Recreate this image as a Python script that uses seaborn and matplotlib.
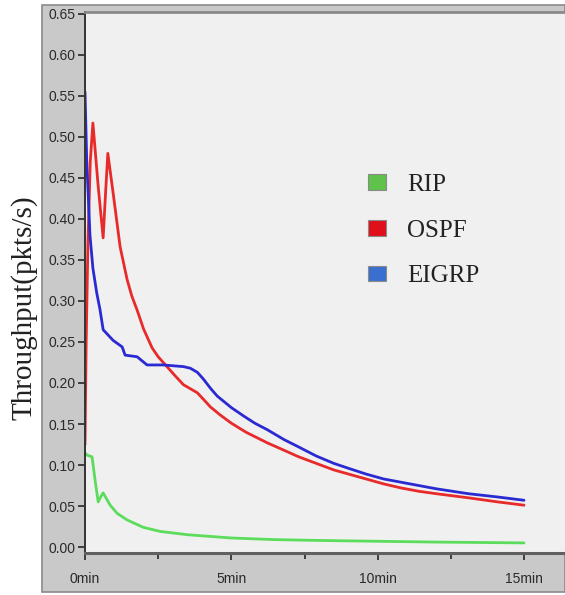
import numpy as np
import pandas as pd
import matplotlib
matplotlib.use("Agg")
import matplotlib.pyplot as plt
from matplotlib.patches import Patch, Rectangle
from matplotlib.ticker import FixedLocator
from matplotlib import font_manager
import seaborn as sns

# throughput traces (time in minutes)
rip_t = [0, 0.07, 0.24, 0.35, 0.45, 0.55, 0.62, 0.86, 1.1, 1.44, 1.99, 2.57,
         3.5, 5.0, 6.5, 8.0, 10.0, 12.0, 15.0]
rip_v = [0.115, 0.112, 0.110, 0.080, 0.055, 0.062, 0.066, 0.051, 0.041, 0.033,
         0.024, 0.019, 0.015, 0.011, 0.009, 0.008, 0.007, 0.006, 0.005]

ospf_t = [0, 0.04, 0.1, 0.18, 0.27, 0.45, 0.62, 0.7, 0.78, 0.96, 1.2, 1.44,
          1.6, 1.78, 2.0, 2.29, 2.5, 2.8, 3.1, 3.36, 3.6, 3.84, 4.05, 4.28,
          4.62, 5.0, 5.5, 6.23, 6.8, 7.3, 7.9, 8.5, 9.0, 9.6, 10.2, 10.8,
          11.4, 12.0, 13.1, 14.1, 15.0]
ospf_v = [0.125, 0.25, 0.37, 0.47, 0.517, 0.44, 0.377, 0.43, 0.48, 0.432,
          0.366, 0.326, 0.306, 0.289, 0.266, 0.243, 0.232, 0.220, 0.208, 0.198,
          0.193, 0.188, 0.180, 0.171, 0.161, 0.151, 0.140, 0.127, 0.118, 0.110,
          0.102, 0.094, 0.089, 0.083, 0.077, 0.072, 0.068, 0.065, 0.060,
          0.055, 0.051]

eigrp_t = [0, 0.06, 0.17, 0.27, 0.4, 0.51, 0.62, 0.96, 1.27, 1.37, 1.78, 2.12,
           2.67, 3.36, 3.6, 3.84, 4.04, 4.3, 4.52, 5.0, 5.41, 5.8, 6.23, 6.8,
           7.3, 7.9, 8.5, 9.0, 9.6, 10.2, 10.8, 11.4, 12.0, 13.1, 14.1, 15.0]
eigrp_v = [0.555, 0.47, 0.38, 0.34, 0.31, 0.29, 0.265, 0.252, 0.244, 0.234,
           0.232, 0.222, 0.222, 0.220, 0.218, 0.213, 0.205, 0.193, 0.184,
           0.170, 0.160, 0.151, 0.143, 0.131, 0.122, 0.111, 0.102, 0.096,
           0.089, 0.083, 0.079, 0.075, 0.071, 0.065, 0.061, 0.057]

protocols = ["RIP", "OSPF", "EIGRP"]
line_colors = {"RIP": "#5cdc5c", "OSPF": "#e82a2a", "EIGRP": "#2a2ad2"}
legend_colors = ["#5fc24a", "#e0101a", "#3a6fd0"]
x_ticks = [0, 5, 10, 15]
x_labels = ["0min", "5min", "10min", "15min"]
y_ticks = np.arange(0, 0.651, 0.05)

df = pd.concat([
    pd.DataFrame({"t": rip_t, "v": rip_v, "proto": "RIP"}),
    pd.DataFrame({"t": ospf_t, "v": ospf_v, "proto": "OSPF"}),
    pd.DataFrame({"t": eigrp_t, "v": eigrp_v, "proto": "EIGRP"}),
])

sns.set_style("white")
installed = {f.name for f in font_manager.fontManager.ttflist}
tick_font = [f for f in ["Liberation Sans Narrow", "Liberation Sans", "DejaVu Sans"]
             if f in installed]
serif_font = [f for f in ["Liberation Serif", "DejaVu Serif"] if f in installed]

W, H = 565, 595
fig = plt.figure(figsize=(W / 100, H / 100), dpi=100)
fig.patch.set_facecolor("white")

# gray panel behind the plotting area
fig.patches.append(Rectangle((42 / W, 3 / H), (W - 42) / W, (H - 8) / H,
                             transform=fig.transFigure, facecolor="#c9c9c9",
                             edgecolor="#8a8a8a", linewidth=1.2, zorder=-5))

ax = fig.add_axes([85 / W, (H - 553) / H, 480 / W, 541 / H])
ax.set_facecolor("#f0f0f0")

sns.lineplot(data=df, x="t", y="v", hue="proto", palette=line_colors,
             hue_order=protocols, linewidth=2.0, estimator=None, sort=False,
             legend=False, ax=ax)

ax.set_xlim(0, 16.4)
ax.set_ylim(-0.0073, 0.6524)
ax.xaxis.set_major_locator(FixedLocator(x_ticks))
ax.set_xticklabels(x_labels)
ax.xaxis.set_minor_locator(FixedLocator([2.5, 7.5, 12.5]))
ax.set_yticks(y_ticks)
ax.set_yticklabels([f"{v:.2f}" for v in y_ticks])

ax.tick_params(axis="both", which="major", direction="out", length=5,
               width=1.3, color="#333333", labelsize=10, labelcolor="#2a2a2a",
               pad=2, left=True, bottom=True)
ax.tick_params(axis="x", which="minor", direction="out", length=4,
               width=1.3, color="#333333", bottom=True)
ax.tick_params(axis="x", pad=9)
for lab in ax.get_xticklabels() + ax.get_yticklabels():
    lab.set_family(tick_font)
    lab.set_stretch("condensed")

ax.spines["left"].set_color("#333333")
ax.spines["left"].set_linewidth(1.4)
ax.spines["bottom"].set_color("#606060")
ax.spines["bottom"].set_linewidth(2.2)
ax.spines["top"].set_color("#8a8a8a")
ax.spines["top"].set_linewidth(2)
ax.spines["right"].set_visible(False)

ax.set_xlabel("")
ax.set_ylabel("Throughput(pkts/s)", family=serif_font, fontsize=21,
              color="#222222")
ax.yaxis.set_label_coords(-0.098, 0.453)

handles = [Patch(facecolor=c, edgecolor="#8a8a8a", linewidth=0.8)
           for c in legend_colors]
leg = ax.legend(handles, protocols, loc="upper left",
                bbox_to_anchor=(0.589, 0.701), frameon=False,
                prop={"family": serif_font, "size": 18},
                handlelength=0.72, handleheight=0.6, handletextpad=0.85,
                labelspacing=0.95, borderpad=0, borderaxespad=0)
for t in leg.get_texts():
    t.set_color("#222222")

fig.savefig("out.png", dpi=100, facecolor="white")
